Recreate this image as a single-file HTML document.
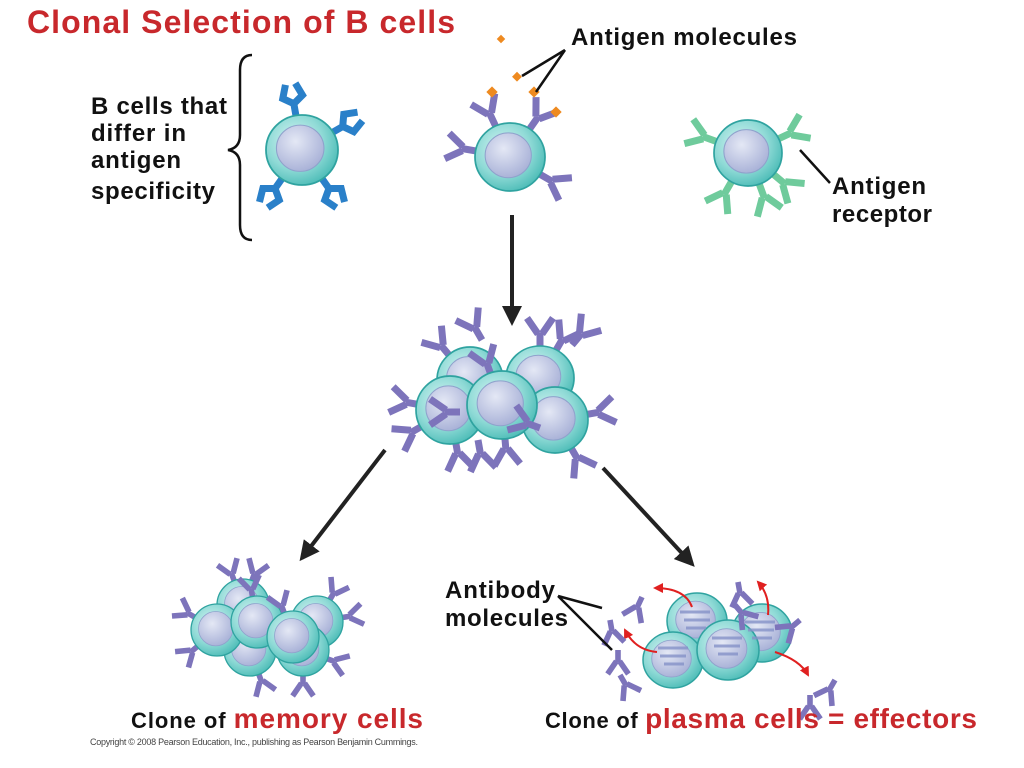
<!DOCTYPE html>
<html><head><meta charset="utf-8"><style>
html,body{margin:0;padding:0;background:#fff;}
svg{display:block;}
text{font-family:"Liberation Sans",Arial,sans-serif;font-weight:bold;}
</style></head><body>
<svg width="1024" height="768" viewBox="0 0 1024 768" xmlns="http://www.w3.org/2000/svg">
<defs>
<radialGradient id="cg" cx="0.4" cy="0.38" r="0.65">
<stop offset="0" stop-color="#d8f5f3"/><stop offset="0.6" stop-color="#8fdad6"/><stop offset="1" stop-color="#4fbdb8"/>
</radialGradient>
<radialGradient id="ng" cx="0.4" cy="0.35" r="0.7">
<stop offset="0" stop-color="#e4e8f5"/><stop offset="1" stop-color="#a6afd6"/>
</radialGradient>
<g id="cell"><circle r="1" fill="url(#cg)" stroke="#2fa3a0" stroke-width="0.05"/><circle cx="-0.05" cy="-0.05" r="0.66" fill="url(#ng)" stroke="#8fa2cc" stroke-width="0.03"/></g>
<g id="yp" fill="none" stroke="#7d74bb" stroke-width="7"><path d="M0 0 V-15 M-2 -14 L-13 -30 M2 -14 L13 -30"/></g>
<g id="yg" fill="none" stroke="#6fcb9c" stroke-width="7"><path d="M0 0 V-15 M-2 -14 L-13 -30 M2 -14 L13 -30"/></g>
<g id="yb" fill="none" stroke="#2a80c9" stroke-width="7"><path d="M0 0 V-13 L-10 -20 L-5 -33 M0 -13 L10 -20 L5 -33"/></g>
<marker id="ah" viewBox="0 0 10 10" refX="8" refY="5" markerWidth="5" markerHeight="5" orient="auto"><path d="M0 0 L10 5 L0 10 z" fill="#222"/></marker>
<marker id="rh" viewBox="0 0 10 10" refX="8" refY="5" markerWidth="5" markerHeight="5" orient="auto"><path d="M0 0 L10 5 L0 10 z" fill="#e02020"/></marker>
</defs>

<text x="27" y="33" font-size="32" fill="#c8282c" textLength="428" lengthAdjust="spacing">Clonal Selection of B cells</text>

<g font-size="24" fill="#111">
<text x="91" y="114" textLength="136" lengthAdjust="spacing">B cells that</text>
<text x="91" y="141" textLength="95" lengthAdjust="spacing">differ in</text>
<text x="91" y="168" textLength="90" lengthAdjust="spacing">antigen</text>
<text x="91" y="199" textLength="124" lengthAdjust="spacing">specificity</text>
</g>
<path d="M252 55 Q240 55 240 70 V135 Q240 148 228 150 Q240 152 240 165 V225 Q240 240 252 240" fill="none" stroke="#111" stroke-width="2.5"/>

<g transform="translate(302,150)">
<use href="#yb" transform="rotate(-10) translate(0,-34)"/>
<use href="#yb" transform="rotate(60) translate(0,-34)"/>
<use href="#yb" transform="rotate(145) translate(0,-34)"/>
<use href="#yb" transform="rotate(-145) translate(0,-34)"/>
<use href="#cell" transform="scale(36,35)"/>
</g>

<g transform="translate(510,157)">
<use href="#yp" transform="rotate(-25) translate(0,-34)"/>
<use href="#yp" transform="rotate(35) translate(0,-34)"/>
<use href="#yp" transform="rotate(-80) translate(0,-34)"/>
<use href="#yp" transform="rotate(120) translate(0,-34)"/>
<use href="#cell" transform="scale(35,34)"/>
</g>
<g fill="#ee8a20">
<rect x="488" y="88" width="8" height="8" transform="rotate(45 492 92)"/>
<rect x="530" y="88" width="8" height="8" transform="rotate(45 534 92)"/>
<rect x="552" y="108" width="8" height="8" transform="rotate(45 556 112)"/>
<rect x="514" y="73" width="7" height="7" transform="rotate(45 517 76)"/>
<rect x="498" y="36" width="6" height="6" transform="rotate(45 501 39)"/>
</g>
<text x="571" y="45" font-size="24" fill="#111" textLength="226" lengthAdjust="spacing">Antigen molecules</text>
<path d="M565 50 L522 76 M565 50 L536 92" stroke="#111" stroke-width="2.5" fill="none"/>

<g transform="translate(748,153)">
<use href="#yg" transform="rotate(-70) translate(0,-33)"/>
<use href="#yg" transform="rotate(65) translate(0,-33)"/>
<use href="#yg" transform="rotate(-150) translate(0,-33)"/>
<use href="#yg" transform="rotate(160) translate(0,-33)"/>
<use href="#yg" transform="rotate(130) translate(0,-33)"/>
<use href="#cell" transform="scale(34,33)"/>
</g>
<path d="M800 150 L830 183" stroke="#111" stroke-width="2.5"/>
<g font-size="24" fill="#111">
<text x="832" y="194" textLength="94" lengthAdjust="spacing">Antigen</text>
<text x="832" y="222" textLength="100" lengthAdjust="spacing">receptor</text>
</g>

<path d="M512 215 V322" stroke="#222" stroke-width="4" marker-end="url(#ah)"/>
<path d="M385 450 L302 558" stroke="#222" stroke-width="4" marker-end="url(#ah)"/>
<path d="M603 468 L692 564" stroke="#222" stroke-width="4" marker-end="url(#ah)"/>

<g>
<g transform="translate(470,380)"><use href="#yp" transform="rotate(-40) translate(0,-30)"/><use href="#cell" transform="scale(33)"/></g>
<g transform="translate(540,378)"><use href="#yp" transform="rotate(30) translate(0,-30)"/><use href="#yp" transform="rotate(0) translate(0,-30)"/><use href="#cell" transform="scale(34,32)"/></g>
<g transform="translate(450,410)"><use href="#yp" transform="rotate(-80) translate(0,-30)"/><use href="#yp" transform="rotate(-120) translate(0,-30)"/><use href="#yp" transform="rotate(170) translate(0,-30)"/><use href="#cell" transform="scale(34)"/></g>
<g transform="translate(555,420)"><use href="#yp" transform="rotate(80) translate(0,-30)"/><use href="#yp" transform="rotate(150) translate(0,-30)"/><use href="#cell" transform="scale(33)"/></g>
<g transform="translate(502,405)"><use href="#yp" transform="rotate(-20) translate(0,-30)"/><use href="#yp" transform="rotate(175) translate(0,-30)"/><use href="#cell" transform="scale(35,34)"/></g>
<use href="#yp" transform="translate(460,412) rotate(-90)"/>
<use href="#yp" transform="translate(540,428) rotate(-70)"/>
<use href="#yp" transform="translate(482,340) rotate(-30)"/>
<use href="#yp" transform="translate(572,345) rotate(40)"/>
<use href="#yp" transform="translate(478,440) rotate(170)"/>
</g>

<g>
<g transform="translate(243,605)"><use href="#yp" transform="rotate(-20) translate(0,-22) scale(0.8)"/><use href="#yp" transform="rotate(20) translate(0,-22) scale(0.8)"/><use href="#cell" transform="scale(26)"/></g>
<g transform="translate(317,622)"><use href="#yp" transform="rotate(30) translate(0,-22) scale(0.8)"/><use href="#yp" transform="rotate(80) translate(0,-22) scale(0.8)"/><use href="#cell" transform="scale(26)"/></g>
<g transform="translate(250,650)"><use href="#yp" transform="rotate(160) translate(0,-22) scale(0.8)"/><use href="#cell" transform="scale(26)"/></g>
<g transform="translate(303,650)"><use href="#yp" transform="rotate(180) translate(0,-22) scale(0.8)"/><use href="#yp" transform="rotate(110) translate(0,-22) scale(0.8)"/><use href="#cell" transform="scale(26)"/></g>
<g transform="translate(217,630)"><use href="#yp" transform="rotate(-60) translate(0,-22) scale(0.8)"/><use href="#yp" transform="rotate(-130) translate(0,-22) scale(0.8)"/><use href="#cell" transform="scale(26)"/></g>
<g transform="translate(257,622)"><use href="#yp" transform="rotate(-10) translate(0,-22) scale(0.8)"/><use href="#cell" transform="scale(26)"/></g>
<g transform="translate(293,637)"><use href="#yp" transform="rotate(-20) translate(0,-22) scale(0.8)"/><use href="#cell" transform="scale(26)"/></g>
</g>

<g>
<g transform="translate(697,621)"><use href="#cell" transform="scale(30,28)"/></g>
<g transform="translate(762,633)"><use href="#cell" transform="scale(30,29)"/></g>
<g transform="translate(673,660)"><use href="#cell" transform="scale(30,28)"/></g>
<g transform="translate(728,650)"><use href="#cell" transform="scale(31,30)"/></g>
<g stroke="#8592c8" stroke-width="3" fill="none" opacity="0.8">
<path d="M680 612 h30 M684 620 h26 M686 628 h20"/>
<path d="M745 622 h30 M748 630 h26 M752 638 h20"/>
<path d="M658 648 h30 M660 656 h26 M664 664 h20"/>
<path d="M712 638 h30 M714 646 h26 M718 654 h20"/>
</g>
</g>
<g stroke="#e02020" stroke-width="2" fill="none">
<path d="M692 607 Q685 588 655 588" marker-end="url(#rh)"/>
<path d="M768 615 Q770 595 758 582" marker-end="url(#rh)"/>
<path d="M657 652 Q635 650 625 630" marker-end="url(#rh)"/>
<path d="M775 652 Q800 660 808 675" marker-end="url(#rh)"/>
</g>
<use href="#yp" transform="translate(642,597) rotate(-155) scale(0.8)"/>
<use href="#yp" transform="translate(610,620) rotate(170) scale(0.8)"/>
<use href="#yp" transform="translate(618,650) rotate(180) scale(0.8)"/>
<use href="#yp" transform="translate(620,675) rotate(150) scale(0.8)"/>
<use href="#yp" transform="translate(738,582) rotate(170) scale(0.8)"/>
<use href="#yp" transform="translate(735,605) rotate(140) scale(0.8)"/>
<use href="#yp" transform="translate(800,620) rotate(-130) scale(0.8)"/>
<use href="#yp" transform="translate(810,695) rotate(180) scale(0.8)"/>
<use href="#yp" transform="translate(835,680) rotate(-150) scale(0.8)"/>

<g font-size="24" fill="#111">
<text x="445" y="598" textLength="110" lengthAdjust="spacing">Antibody</text>
<text x="445" y="626" textLength="123" lengthAdjust="spacing">molecules</text>
</g>
<path d="M558 596 L602 608 M558 596 L612 650" stroke="#111" stroke-width="2.5"/>

<text x="131" y="728" font-size="22" fill="#111" textLength="292" lengthAdjust="spacing">Clone of <tspan font-size="28" fill="#c8282c">memory cells</tspan></text>
<text x="545" y="728" font-size="22" fill="#111" textLength="432" lengthAdjust="spacing">Clone of <tspan font-size="28" fill="#c8282c">plasma cells = effectors</tspan></text>
<text x="90" y="745" font-size="9" fill="#444" style="font-weight:normal" textLength="328" lengthAdjust="spacing">Copyright © 2008 Pearson Education, Inc., publishing as Pearson Benjamin Cummings.</text>
</svg>
</body></html>
